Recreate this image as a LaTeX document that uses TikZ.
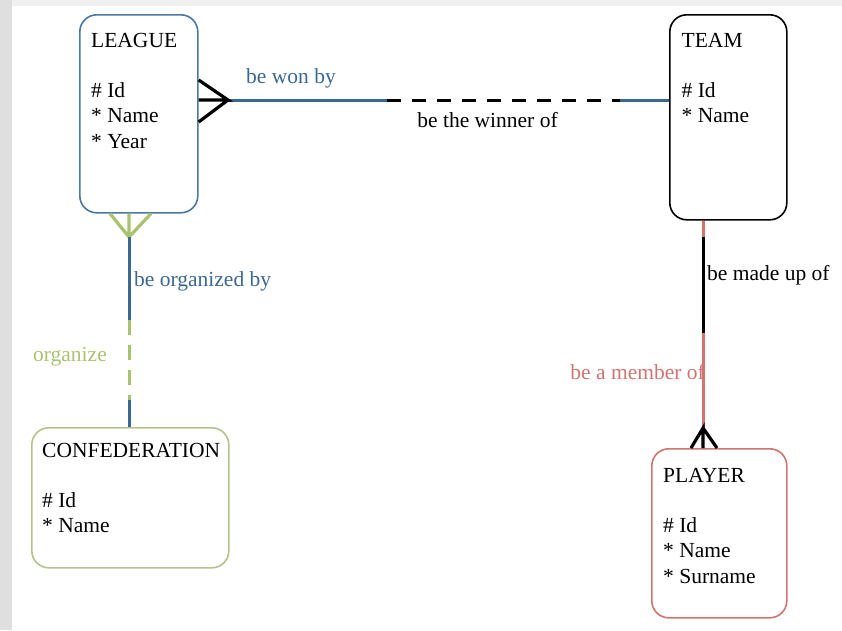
\documentclass[tikz,border=0pt]{standalone}
\usepackage{fontspec}
\setmainfont{Liberation Serif}
\usetikzlibrary{calc}

\definecolor{leagueblue}{HTML}{4A78A3}
\definecolor{linkblue}{HTML}{3A6893}
\definecolor{confgreen}{HTML}{A9C26F}
\definecolor{confborder}{HTML}{B4C38C}
\definecolor{playerred}{HTML}{CF7470}

\tikzset{
  entity/.style={draw=#1,line width=1.6pt,rounded corners=17pt,anchor=north west,inner sep=0pt},
  attrs/.style={anchor=north west,inner sep=0pt,align=left,font=\fontsize{21.5}{25.5}\selectfont},
  rel/.style={line width=3pt},
  foot/.style={line width=3.2pt},
  lbl/.style={inner sep=0pt,font=\fontsize{21.5}{25.5}\selectfont},
}

\begin{document}
\begin{tikzpicture}[x=1pt,y=-1pt]
  \useasboundingbox (0,0) rectangle (842,630);
  \fill[gray!25] (0,0) rectangle (12,630);
  \fill[gray!12] (12,0) rectangle (842,6);

  % entities
  \node[entity=leagueblue,minimum width=118pt,minimum height=198pt] (league) at (79,14) {};
  \node[entity=black,minimum width=117pt,minimum height=205pt] (team) at (669,14) {};
  \node[entity=confborder,minimum width=197pt,minimum height=140pt] (confed) at (31,427) {};
  \node[entity=playerred,minimum width=135pt,minimum height=169pt] (player) at (651,448) {};

  \node[attrs] (leaguetxt) at ($(league.north west)+(12,19)$) {LEAGUE\\[24.5pt]\# Id\\{*} Name\\{*} Year};
  \node[attrs] (teamtxt) at ($(team.north west)+(12.5,19)$) {TEAM\\[24.5pt]\# Id\\{*} Name};
  \node[attrs] (confedtxt) at ($(confed.north west)+(11,16)$) {CONFEDERATION\\[24.5pt]\# Id\\{*} Name};
  \node[attrs] (playertxt) at ($(player.north west)+(12,20)$) {PLAYER\\[24.5pt]\# Id\\{*} Name\\{*} Surname};

  % league - team
  \coordinate (wonfoot) at (228,100);
  \coordinate (wondash) at (387,100);
  \coordinate (winnerdash) at (620,100);
  \draw[rel,linkblue] (wonfoot) -- (wondash);
  \draw[rel,dash pattern=on 14pt off 11pt] (wondash) -- (winnerdash);
  \draw[rel,linkblue] (winnerdash) -- (team.west |- wonfoot);
  \draw[foot] (league.east |- wonfoot) -- (wonfoot) -- (league.east |- 0,80) (wonfoot) -- (league.east |- 0,122);

  % league - confederation
  \coordinate (orgfoot) at (129,237);
  \coordinate (orgdash) at (129,320);
  \coordinate (confdash) at (129,400);
  \draw[foot,confgreen] (league.south -| orgfoot) -- (orgfoot) -- (league.south -| 110,0) (orgfoot) -- (league.south -| 151,0);
  \draw[rel,linkblue] (orgfoot) -- (orgdash);
  \draw[rel,confgreen,dash pattern=on 15pt off 10pt] (orgdash) -- (confdash);
  \draw[rel,linkblue] (confdash) -- (confed.north -| orgfoot);

  % team - player
  \coordinate (madetop) at (703,237);
  \coordinate (madebot) at (703,333);
  \coordinate (memberfoot) at (703,428);
  \draw[rel,playerred] (team.south -| madetop) -- (madetop);
  \draw[rel] (madetop) -- (madebot);
  \draw[rel,playerred] (madebot) -- (memberfoot);
  \draw[foot] (player.north -| memberfoot) -- (memberfoot) -- (player.north -| 691,0) (memberfoot) -- (player.north -| 717,0);

  % labels
  \node[lbl,text=linkblue,anchor=base] (wonlbl) at (291,83) {be won by};
  \node[lbl,anchor=base] (winnerlbl) at (487.5,127) {be the winner of};
  \node[lbl,text=linkblue,anchor=base west] (orgbylbl) at (134,286) {be organized by};
  \node[lbl,text=confgreen,anchor=base east] (orglbl) at (107,361) {organize};
  \node[lbl,anchor=base west] (madelbl) at (707,280) {be made up of};
  \node[lbl,text=playerred,anchor=base east] (memberlbl) at (705,379) {be a member of};
\end{tikzpicture}
\end{document}
